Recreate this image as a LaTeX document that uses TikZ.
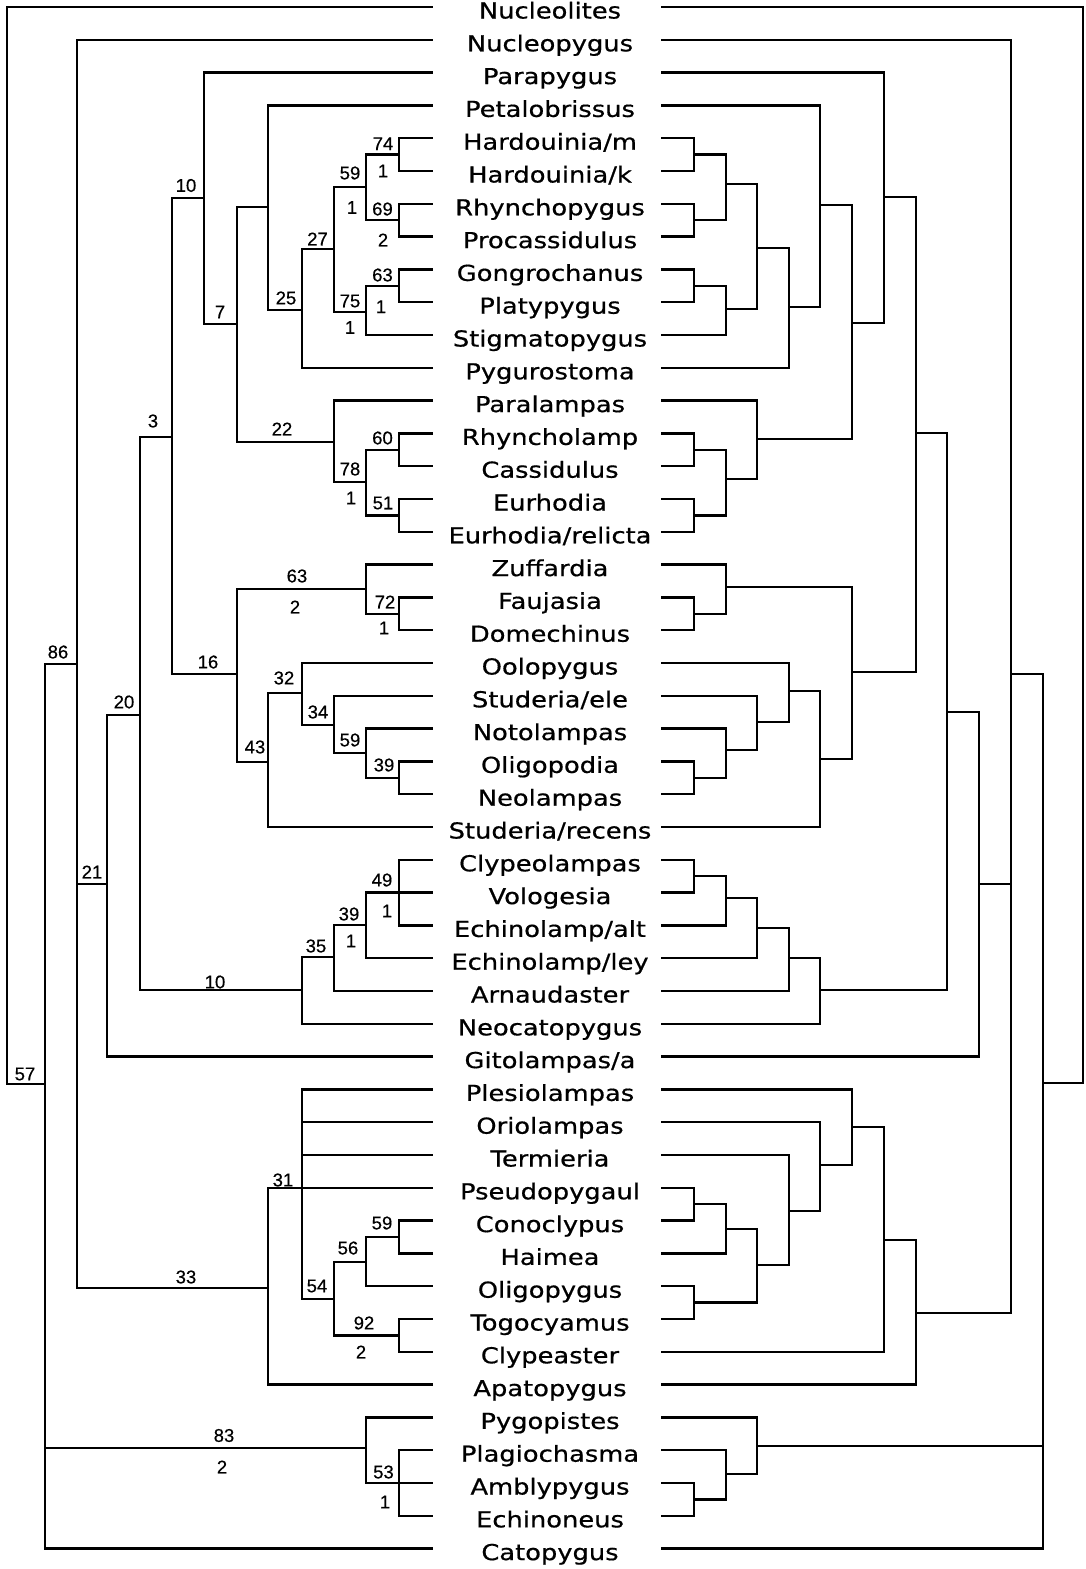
\documentclass[tikz,border=0pt]{standalone}
\usepackage{fontspec}
\newfontfamily\taxfont[FakeStretch=1.17,FakeBold=0.6]{DejaVu Sans}
\newfontfamily\numfont[FakeBold=0.4]{Liberation Sans}
\tikzset{
  br/.style={line width=2.3pt, line join=miter, line cap=rect},
  taxon/.style={font=\taxfont\fontsize{22}{24}\selectfont, anchor=base, inner sep=0pt},
  bsup/.style={font=\numfont\fontsize{18.5}{20}\selectfont, anchor=center, inner sep=0pt}
}
\newcommand\mytree[2]{\foreach \c in {#2}{\draw[br] (#1) |- (\c);}}
\begin{document}
\begin{tikzpicture}[x=1pt,y=-1pt]
\fill[white] (0,0) rectangle (1085,1569);
\useasboundingbox (0,0) rectangle (1085,1569);
% leaves and taxon names
\foreach \i/\t in {1/Nucleolites,2/Nucleopygus,3/Parapygus,4/Petalobrissus,5/{Hardouinia/m},6/{Hardouinia/k},7/Rhynchopygus,8/Procassidulus,9/Gongrochanus,10/Platypygus,11/Stigmatopygus,12/Pygurostoma,13/Paralampas,14/Rhyncholamp,15/Cassidulus,16/Eurhodia,17/{Eurhodia/relicta},18/Zuffardia,19/Faujasia,20/Domechinus,21/Oolopygus,22/{Studeria/ele},23/Notolampas,24/Oligopodia,25/Neolampas,26/{Studeria/recens},27/Clypeolampas,28/Vologesia,29/{Echinolamp/alt},30/{Echinolamp/ley},31/Arnaudaster,32/Neocatopygus,33/{Gitolampas/a},34/Plesiolampas,35/Oriolampas,36/Termieria,37/Pseudopygaul,38/Conoclypus,39/Haimea,40/Oligopygus,41/Togocyamus,42/Clypeaster,43/Apatopygus,44/Pygopistes,45/Plagiochasma,46/Amblypygus,47/Echinoneus,48/Catopygus}{
  \pgfmathsetmacro\yy{7+(\i-1)*32.8}
  \coordinate (l\i) at (432,\yy);
  \coordinate (r\i) at (662,\yy);
  \node[taxon] (t\i) at (550,\yy+11.5) {\t};
}
% left tree nodes
\coordinate (lA) at (7,1084);
\coordinate (lB) at (45,1084);
\coordinate (lC) at (77,664);
\coordinate (lD) at (107,884);
\coordinate (lE) at (140,715);
\coordinate (lF) at (172,437);
\coordinate (lG) at (204,198);
\coordinate (lH) at (237,324);
\coordinate (lI) at (268,207);
\coordinate (lJ) at (302,310);
\coordinate (lK) at (334,249);
\coordinate (lM1) at (366,187);
\coordinate (lN1) at (399,154.6);
\coordinate (lN2) at (399,220.2);
\coordinate (lM2) at (366,312);
\coordinate (lN3) at (399,285.8);
\coordinate (lK2) at (334,442);
\coordinate (lM3) at (366,482);
\coordinate (lN4) at (399,449.8);
\coordinate (lN5) at (399,515.4);
\coordinate (lH2) at (237,674);
\coordinate (lM4) at (366,589);
\coordinate (lN6) at (399,613.8);
\coordinate (lI2) at (268,762);
\coordinate (lJ2) at (302,693);
\coordinate (lK3) at (334,725);
\coordinate (lM5) at (366,753);
\coordinate (lN7) at (399,777.8);
\coordinate (lJ3) at (302,990);
\coordinate (lK4) at (334,957);
\coordinate (lM6) at (366,925);
\coordinate (lN8) at (399,892.6);
\coordinate (lI3) at (268,1288);
\coordinate (lJ4) at (302,1187.8);
\coordinate (lK5) at (334,1299);
\coordinate (lM7) at (366,1262);
\coordinate (lN9) at (399,1237);
\coordinate (lN10) at (399,1335.4);
\coordinate (lM8) at (366,1448);
\coordinate (lN11) at (399,1483);
% left tree edges
\mytree{lA}{l1,lB}
\mytree{lB}{lC,lM8,l48}
\mytree{lC}{l2,lD,lI3}
\mytree{lD}{lE,l33}
\mytree{lE}{lF,lJ3}
\mytree{lF}{lG,lH2}
\mytree{lG}{l3,lH}
\mytree{lH}{lI,lK2}
\mytree{lI}{l4,lJ}
\mytree{lJ}{lK,l12}
\mytree{lK}{lM1,lM2}
\mytree{lM1}{lN1,lN2}
\mytree{lN1}{l5,l6}
\mytree{lN2}{l7,l8}
\mytree{lM2}{lN3,l11}
\mytree{lN3}{l9,l10}
\mytree{lK2}{l13,lM3}
\mytree{lM3}{lN4,lN5}
\mytree{lN4}{l14,l15}
\mytree{lN5}{l16,l17}
\mytree{lH2}{lM4,lI2}
\mytree{lM4}{l18,lN6}
\mytree{lN6}{l19,l20}
\mytree{lI2}{lJ2,l26}
\mytree{lJ2}{l21,lK3}
\mytree{lK3}{l22,lM5}
\mytree{lM5}{l23,lN7}
\mytree{lN7}{l24,l25}
\mytree{lJ3}{lK4,l32}
\mytree{lK4}{lM6,l31}
\mytree{lM6}{lN8,l30}
\mytree{lN8}{l27,l28,l29}
\mytree{lI3}{lJ4,l43}
\mytree{lJ4}{l34,l35,l36,l37,lK5}
\mytree{lK5}{lM7,lN10}
\mytree{lM7}{lN9,l40}
\mytree{lN9}{l38,l39}
\mytree{lN10}{l41,l42}
\mytree{lM8}{l44,lN11}
\mytree{lN11}{l45,l46,l47}
% right tree nodes
\coordinate (rRt) at (1083,1083);
\coordinate (rA) at (1043,1083);
\coordinate (rB) at (1011,674);
\coordinate (rC) at (979,884);
\coordinate (rE) at (947,712);
\coordinate (rF) at (916,433);
\coordinate (rH) at (884,197);
\coordinate (rJ) at (852,323);
\coordinate (rK) at (820,205);
\coordinate (rM) at (789,307);
\coordinate (rN) at (757,248);
\coordinate (rO) at (726,184);
\coordinate (rP) at (726,309);
\coordinate (rQ) at (694,154.6);
\coordinate (rR) at (694,220.2);
\coordinate (rS) at (694,285.8);
\coordinate (rL) at (757,439);
\coordinate (rT) at (726,479);
\coordinate (rU) at (694,449.8);
\coordinate (rV) at (694,515.4);
\coordinate (rI) at (852,672);
\coordinate (rW) at (726,587);
\coordinate (rY) at (694,613.8);
\coordinate (rX) at (820,759);
\coordinate (rZ) at (789,691);
\coordinate (ra) at (757,722);
\coordinate (rb) at (726,750);
\coordinate (rc) at (694,777.8);
\coordinate (rG) at (820,990);
\coordinate (rd) at (789,958);
\coordinate (re) at (757,928);
\coordinate (rf) at (726,898);
\coordinate (rg) at (694,876.2);
\coordinate (rD) at (916,1313);
\coordinate (rh) at (884,1240);
\coordinate (ri) at (852,1127);
\coordinate (rj) at (820,1165);
\coordinate (rk) at (789,1211);
\coordinate (rl) at (757,1265);
\coordinate (rm) at (726,1229);
\coordinate (ro) at (694,1204.2);
\coordinate (rn) at (694,1302.6);
\coordinate (rPy) at (757,1446);
\coordinate (rp) at (726,1474);
\coordinate (rq) at (694,1499.4);
% right tree edges
\mytree{rRt}{r1,rA}
\mytree{rA}{rB,rPy,r48}
\mytree{rB}{r2,rC,rD}
\mytree{rC}{rE,r33}
\mytree{rE}{rF,rG}
\mytree{rF}{rH,rI}
\mytree{rH}{r3,rJ}
\mytree{rJ}{rK,rL}
\mytree{rK}{r4,rM}
\mytree{rM}{rN,r12}
\mytree{rN}{rO,rP}
\mytree{rO}{rQ,rR}
\mytree{rQ}{r5,r6}
\mytree{rR}{r7,r8}
\mytree{rP}{rS,r11}
\mytree{rS}{r9,r10}
\mytree{rL}{r13,rT}
\mytree{rT}{rU,rV}
\mytree{rU}{r14,r15}
\mytree{rV}{r16,r17}
\mytree{rI}{rW,rX}
\mytree{rW}{r18,rY}
\mytree{rY}{r19,r20}
\mytree{rX}{rZ,r26}
\mytree{rZ}{r21,ra}
\mytree{ra}{r22,rb}
\mytree{rb}{r23,rc}
\mytree{rc}{r24,r25}
\mytree{rG}{rd,r32}
\mytree{rd}{re,r31}
\mytree{re}{rf,r30}
\mytree{rf}{rg,r29}
\mytree{rg}{r27,r28}
\mytree{rD}{rh,r43}
\mytree{rh}{ri,r42}
\mytree{ri}{r34,rj}
\mytree{rj}{r35,rk}
\mytree{rk}{r36,rl}
\mytree{rl}{rm,rn}
\mytree{rm}{ro,r39}
\mytree{ro}{r37,r38}
\mytree{rn}{r40,r41}
\mytree{rPy}{r44,rp}
\mytree{rp}{r45,rq}
\mytree{rq}{r46,r47}
% support values
\foreach \x/\y/\t [count=\k] in {186/185.5/10,220/312/7,286/298/25,317.5/239/27,350/173/59,352/207.5/1,383/143.7/74,383/171/1,382.5/209/69,383/240/2,382.5/275/63,381/306.7/1,350/301/75,350/327.5/1,
153/421/3,282/429/22,382.5/438/60,350/469/78,351/498/1,383/503/51,297/576/63,295/607/2,385/602/72,384/628/1,208/662/16,58/652/86,284/678/32,124/702/20,318/712/34,255/747/43,350/740/59,384/765/39,
92/872/21,382/880/49,387/911/1,349/914/39,351/941/1,316/946/35,215/982/10,25/1074/57,
283/1180/31,382/1223/59,348/1248/56,186/1277/33,317/1286/54,364/1323/92,361/1352/2,224/1435.5/83,222/1467/2,383.5/1472/53,385/1502/1}{
  \node[bsup] (s\k) at (\x,\y) {\t};
}
\end{tikzpicture}
\end{document}
